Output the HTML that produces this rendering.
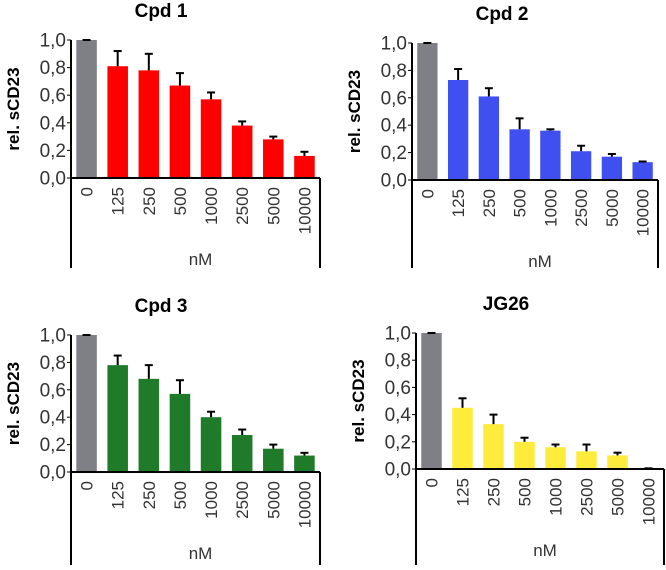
<!DOCTYPE html>
<html><head><meta charset="utf-8"><style>
body{margin:0;background:#fff;width:666px;height:565px;overflow:hidden}
svg{font-family:"Liberation Sans",Arial,sans-serif}
</style></head><body>
<svg id="c" width="666" height="565"></svg>
<script>
const categories=["0","125","250","500","1000","2500","5000","10000"];
const titles=["Cpd 1","Cpd 2","Cpd 3","JG26"];
const colors=["#ff0000","#3f4ff0","#1f7a2a","#ffeb3b"];
const cpd1Values=[1.0,0.81,0.78,0.67,0.57,0.38,0.28,0.16];
const cpd1Errors=[0.0,0.11,0.12,0.09,0.05,0.03,0.02,0.03];
const cpd2Values=[1.0,0.73,0.61,0.37,0.36,0.21,0.17,0.13];
const cpd2Errors=[0.0,0.08,0.06,0.08,0.01,0.04,0.02,0.005];
const cpd3Values=[1.0,0.78,0.68,0.57,0.40,0.27,0.17,0.12];
const cpd3Errors=[0.0,0.07,0.10,0.10,0.04,0.04,0.03,0.02];
const jg26Values=[1.0,0.45,0.33,0.20,0.16,0.13,0.10,0.005];
const jg26Errors=[0.0,0.07,0.07,0.03,0.02,0.05,0.02,0.0];
const yTicks=[0,0.2,0.4,0.6,0.8,1.0];
const tickLabels=["0,0","0,2","0,4","0,6","0,8","1,0"];
const panels=[
 {x0:71,x1:320,yTop:40,yZero:178,bottom:268,vals:cpd1Values,errs:cpd1Errors},
 {x0:412,x1:658,yTop:43,yZero:180,bottom:268,vals:cpd2Values,errs:cpd2Errors},
 {x0:71,x1:320,yTop:335,yZero:472,bottom:565,vals:cpd3Values,errs:cpd3Errors},
 {x0:416,x1:664,yTop:333,yZero:469,bottom:565,vals:jg26Values,errs:jg26Errors}
];
const svg=document.getElementById('c');
const NS="http://www.w3.org/2000/svg";
function mk(t,a,txt){const e=document.createElementNS(NS,t);for(const k in a)e.setAttribute(k,a[k]);if(txt!==undefined)e.textContent=txt;svg.appendChild(e);return e;}
panels.forEach((p,pi)=>{
 const y=v=>p.yZero-(p.yZero-p.yTop)*v;
 const slot=(p.x1-p.x0)/categories.length;
 const xc=i=>p.x0+slot*(i+0.5);
 const bw=slot*0.66;
 let t=mk('text',{x:p.x0+90,y:p.yTop-23,'text-anchor':'middle','font-size':19,'font-weight':'bold',fill:'#000'},titles[pi]);
 
 
 yTicks.forEach((v,i)=>{
  const l=mk('text',{x:p.x0-5,y:y(v)+6.5,'text-anchor':'end','font-size':19,fill:'#333'},tickLabels[i]);
  
  
  mk('line',{x1:p.x0-4,x2:p.x0,y1:y(v),y2:y(v),stroke:'#000','stroke-width':1});
 });
 const yt=mk('text',{transform:`translate(${p.x0-52},${(p.yTop+p.yZero)/2}) rotate(-90)`,'text-anchor':'middle','font-size':17,'font-weight':'bold',fill:'#000'},'rel. sCD23');
 
 
 p.vals.forEach((v,i)=>{
  const b=mk('rect',{x:xc(i)-bw/2,y:y(v),width:bw,height:p.yZero-y(v),fill:i===0?'#7f7f86':colors[pi]});
  
  
  const e=p.errs[i];
  if(e>0){
   mk('line',{x1:xc(i),x2:xc(i),y1:y(v),y2:y(v+e),stroke:'#000','stroke-width':2});
   mk('line',{x1:xc(i)-4,x2:xc(i)+4,y1:y(v+e),y2:y(v+e),stroke:'#000','stroke-width':2});
  } else {
   mk('line',{x1:xc(i)-4,x2:xc(i)+4,y1:y(v),y2:y(v),stroke:'#000','stroke-width':2});
  }
  const xl=mk('text',{transform:`translate(${xc(i)+6},${p.yZero+9}) rotate(-90)`,'text-anchor':'end','font-size':17,fill:'#333'},categories[i]);
  
  
 });
 mk('line',{x1:p.x0,x2:p.x0,y1:p.yTop,y2:p.bottom,stroke:'#000','stroke-width':2});
 mk('line',{x1:p.x1,x2:p.x1,y1:p.yZero,y2:p.bottom,stroke:'#000','stroke-width':2});
 mk('line',{x1:p.x0,x2:p.x1,y1:p.yZero,y2:p.yZero,stroke:'#000','stroke-width':2});
 const nm=mk('text',{x:(p.x0+p.x1)/2+5,y:p.yZero+87,'text-anchor':'middle','font-size':17,fill:'#333'},'nM');
 
 
});
</script>
</body></html>
